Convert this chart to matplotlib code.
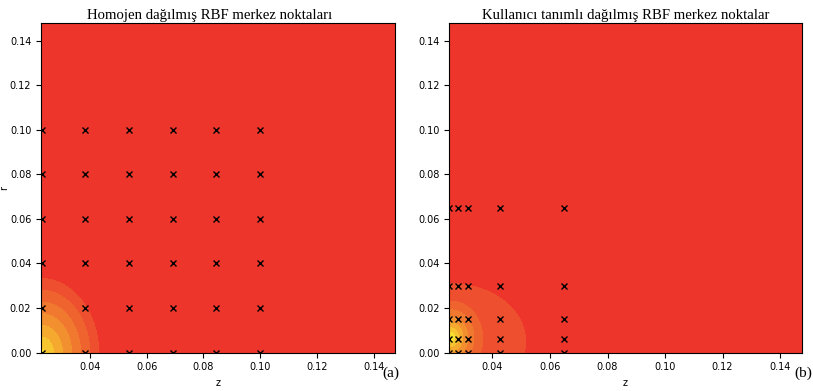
import numpy as np
import matplotlib.pyplot as plt

# RBF centre points
z_homo = [0.023, 0.0384, 0.0538, 0.0692, 0.0846, 0.100]
r_homo = [0.0, 0.02, 0.04, 0.06, 0.08, 0.10]
z_user = [0.025, 0.028, 0.0315, 0.0425, 0.065]
r_user = [0.0, 0.006, 0.015, 0.030, 0.065]

# contour band boundaries of panel (a), read along the r axis (m)
bounds_a = [0.0022, 0.0075, 0.0127, 0.018, 0.0232, 0.0285, 0.0337]
stretch_a = 0.0205 / 0.0337   # z extent / r extent of the bands

# panel (b): sharp peak + broad low shoulder (estimated from the bands)
peak_zr = (0.0255, 0.007)
peak_size = (0.015, 0.024)
peak_amp = 0.78
shoulder_zr = (0.0255, 0.005)
shoulder_size = (0.0346, 0.0345)
shoulder_amp = 0.22
levels_b = [0.125, 0.25, 0.375, 0.5, 0.625, 0.75, 0.875]

band_colors = ['#f7e22e', '#f7c52f', '#f5a92f', '#f28f2f', '#f0782f',
               '#ef632f', '#ee4f2e', '#ee352b']

zlim_a = (0.0228, 0.1475)
zlim_b = (0.0250, 0.1475)
rlim = (0.0, 0.148)
ticks_z = [0.04, 0.06, 0.08, 0.10, 0.12, 0.14]
ticks_r = [0.0, 0.02, 0.04, 0.06, 0.08, 0.10, 0.12, 0.14]

plt.rcParams['font.size'] = 7

fig = plt.figure(figsize=(8.13, 3.91), dpi=100)
ax1 = fig.add_axes([0.0504, 0.098, 0.4354, 0.844])
ax2 = fig.add_axes([0.5527, 0.098, 0.4334, 0.844])

# (a) --------------------------------------------------
zz, rr = np.meshgrid(np.linspace(zlim_a[0], zlim_a[1], 400), np.linspace(0, rlim[1], 400))
dist = np.sqrt(((zz - z_homo[0]) / stretch_a) ** 2 + rr ** 2)
ax1.contourf(zz, rr, dist, levels=[0] + bounds_a + [dist.max() + 1], colors=band_colors)
hz, hr = np.meshgrid(z_homo, r_homo)
ax1.plot(hz.ravel(), hr.ravel(), 'kx', markersize=4.5, markeredgewidth=1)
ax1.set_xlim(zlim_a)
ax1.set_ylim(rlim)
ax1.set_xticks(ticks_z)
ax1.set_yticks(ticks_r)
ax1.set_xlabel('z')
ax1.set_ylabel('r')
ax1.yaxis.set_label_coords(-0.09, 0.5)
ax1.set_title('Homojen dağılmış RBF merkez noktaları', family='Liberation Serif',
              fontsize=10.6, pad=3, x=0.476)

# (b) --------------------------------------------------
zz, rr = np.meshgrid(np.linspace(zlim_b[0], zlim_b[1], 400), np.linspace(0, rlim[1], 400))
d_peak = np.sqrt(((zz - peak_zr[0]) / peak_size[0]) ** 2 + ((rr - peak_zr[1]) / peak_size[1]) ** 2)
field = peak_amp * np.clip(1 - d_peak, 0, None) ** 2
field += shoulder_amp * np.exp(-((zz - shoulder_zr[0]) / shoulder_size[0]) ** 2
                               - ((rr - shoulder_zr[1]) / shoulder_size[1]) ** 2)
ax2.contourf(zz, rr, field, levels=[-1] + levels_b + [field.max() + 1], colors=band_colors[::-1])
uz, ur = np.meshgrid(z_user, r_user)
ax2.plot(uz.ravel(), ur.ravel(), 'kx', markersize=4.5, markeredgewidth=1)
ax2.set_xlim(zlim_b)
ax2.set_ylim(rlim)
ax2.set_xticks(ticks_z)
ax2.set_yticks(ticks_r)
ax2.set_xlabel('z')
ax2.set_title('Kullanıcı tanımlı dağılmış RBF merkez noktalar', family='Liberation Serif',
              fontsize=10.6, pad=3)

fig.text(0.470, 0.035, '(a)', family='Liberation Serif', fontsize=11)
fig.text(0.977, 0.035, '(b)', family='Liberation Serif', fontsize=11)

plt.savefig('out.png', dpi=100)
